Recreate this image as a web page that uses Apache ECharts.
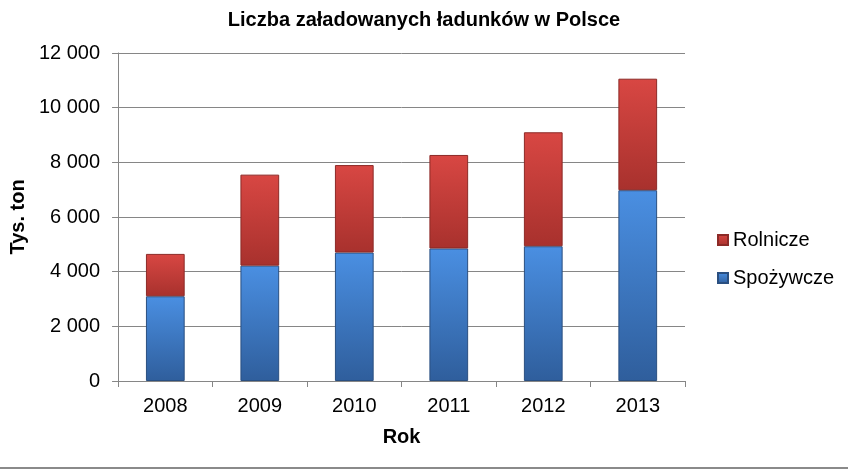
<!DOCTYPE html>
<html>
<head>
<meta charset="utf-8">
<script src="https://cdn.jsdelivr.net/npm/echarts@6/dist/echarts.min.js"></script>
<style>
html,body{margin:0;padding:0;background:#fff;}
#c{width:848px;height:474px;}
</style>
</head>
<body>
<div id="c"></div>
<script>
var years = ['2008','2009','2010','2011','2012','2013'];
var spozywcze = [3100, 4220, 4700, 4850, 4930, 6980];
var rolnicze = [1550, 3330, 3200, 3420, 4170, 4080];
var yTicks = [0, 2000, 4000, 6000, 8000, 10000, 12000];

var font = '"Liberation Sans", Arial, sans-serif';
function fmt(v){ return String(v).replace(/\B(?=(\d{3})+(?!\d))/g, ' '); }

var chart = echarts.init(document.getElementById('c'), null, {renderer:'canvas'});
chart.setOption({
  animation: false,
  backgroundColor: '#ffffff',
  title: {
    text: 'Liczba załadowanych ładunków w Polsce',
    left: 'center', top: 5,
    textStyle: {fontFamily: font, fontSize: 20, fontWeight: 'bold', color: '#000'}
  },
  legend: {
    data: ['Rolnicze', 'Spożywcze'],
    orient: 'vertical',
    left: 712, top: 225,
    itemWidth: 10, itemHeight: 10, itemGap: 18,
    icon: 'rect',
    textStyle: {fontFamily: font, fontSize: 20, color: '#000'}
  },
  grid: {left: 112, right: 163, top: 53, bottom: 93},
  xAxis: {
    type: 'category',
    data: years,
    name: 'Rok',
    nameLocation: 'middle',
    nameGap: 46,
    nameTextStyle: {fontFamily: font, fontSize: 20, fontWeight: 'bold', color: '#000'},
    axisLine: {lineStyle: {color: '#868686', width: 1}},
    axisTick: {show: true, length: 6, lineStyle: {color: '#868686'}},
    axisLabel: {fontFamily: font, fontSize: 20, color: '#000', margin: 15}
  },
  yAxis: {
    type: 'value',
    min: yTicks[0], max: yTicks[yTicks.length-1], interval: 2000,
    name: 'Tys. ton',
    nameLocation: 'middle',
    nameGap: 90,
    nameRotate: 90,
    nameTextStyle: {fontFamily: font, fontSize: 20, fontWeight: 'bold', color: '#000'},
    axisLine: {show: true, lineStyle: {color: '#868686', width: 1}},
    axisTick: {show: true, length: 6, lineStyle: {color: '#868686'}},
    axisLabel: {fontFamily: font, fontSize: 20, color: '#000', margin: 18, formatter: fmt},
    splitLine: {show: true, lineStyle: {color: '#868686', width: 1}}
  },
  series: [
    {
      name: 'Spożywcze', type: 'bar', stack: 'a', data: spozywcze,
      barWidth: '41%',
      itemStyle: {
        color: new echarts.graphic.LinearGradient(0,0,0,1,[
          {offset:0, color:'#4a8fe2'},
          {offset:1, color:'#2f5e9c'}
        ]),
        borderColor: '#2a4f80', borderWidth: 1
      }
    },
    {
      name: 'Rolnicze', type: 'bar', stack: 'a', data: rolnicze,
      barWidth: '41%',
      itemStyle: {
        color: new echarts.graphic.LinearGradient(0,0,0,1,[
          {offset:0, color:'#d84743'},
          {offset:1, color:'#a8312d'}
        ]),
        borderColor: '#8c2a27', borderWidth: 1
      }
    }
  ],
  graphic: [{
    type: 'line',
    shape: {x1: 0, y1: 468, x2: 848, y2: 468},
    style: {stroke: '#8a8a8a', lineWidth: 2}
  }]
});
</script>
</body>
</html>
